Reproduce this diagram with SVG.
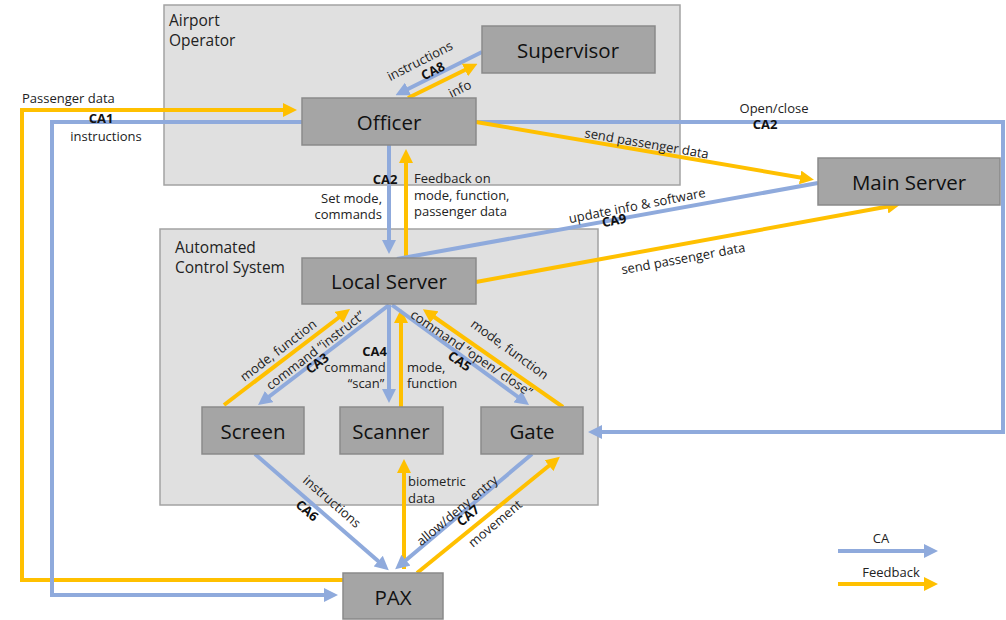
<svg xmlns="http://www.w3.org/2000/svg" width="1006" height="620" viewBox="0 0 1006 620">
<style>
.cont{fill:#e0e0e0;stroke:#a3a3a3;stroke-width:1.5}
.node{fill:#a5a5a5;stroke:#8a8a8a;stroke-width:1.5}
.nt{font-family:"Open Sans","Liberation Sans",sans-serif;font-size:20.5px;fill:#111;text-anchor:middle;dominant-baseline:central}
.ct{font-family:"Open Sans","Liberation Sans",sans-serif;font-size:15.5px;fill:#222}
.lb{font-family:"Open Sans","Liberation Sans",sans-serif;font-size:13px;fill:#222}
.b{font-weight:bold;fill:#111}
.ca{stroke:#8FAADC;stroke-width:4;fill:none}
.fb{stroke:#FFC000;stroke-width:4;fill:none}
.caa{marker-end:url(#ab)}
.fba{marker-end:url(#ay)}
</style>
<defs>
<marker id="ab" markerWidth="14" markerHeight="14" refX="9" refY="7" orient="auto" markerUnits="userSpaceOnUse"><path d="M0,0 L14,7 L0,14 z" fill="#8FAADC"/></marker>
<marker id="ay" markerWidth="14" markerHeight="14" refX="9" refY="7" orient="auto" markerUnits="userSpaceOnUse"><path d="M0,0 L14,7 L0,14 z" fill="#FFC000"/></marker>
</defs>
<rect width="1006" height="620" fill="#fff"/>
<g id="airport-operator">
<rect class="cont" x="164" y="5" width="516" height="180"/>
<text class="ct" x="169" y="26">Airport</text>
<text class="ct" x="169" y="46">Operator</text>
</g>
<g id="automated-control-system">
<rect class="cont" x="160" y="229" width="438" height="276"/>
<text class="ct" x="175" y="253">Automated</text>
<text class="ct" x="175" y="273">Control System</text>
</g>
<g id="connectors">
<polyline class="fb fba" points="345,580 22,580 22,110 292,110"/>
<polyline class="ca caa" points="302,122 52,122 52,595 333,595"/>
<line class="ca caa" x1="482" y1="52" x2="400" y2="93"/>
<line class="fb fba" x1="408" y1="98" x2="473" y2="66"/>
<polyline class="ca caa" points="476,122 1003,122 1003,432 593,432"/>
<line class="fb fba" x1="476" y1="122" x2="809" y2="179"/>
<line class="ca caa" x1="389" y1="145" x2="389" y2="249"/>
<line class="fb fba" x1="406" y1="258" x2="406" y2="154"/>
<line class="ca" x1="818" y1="183" x2="397" y2="259"/>
<line class="fb fba" x1="476" y1="282" x2="896" y2="205"/>
<line class="ca caa" x1="389" y1="305" x2="262" y2="402"/>
<line class="fb fba" x1="224" y1="405" x2="346" y2="312"/>
<line class="ca caa" x1="389" y1="305" x2="389" y2="398"/>
<line class="fb fba" x1="401" y1="407" x2="401" y2="314"/>
<line class="ca caa" x1="392" y1="305" x2="525" y2="402"/>
<line class="fb fba" x1="563" y1="407" x2="427" y2="312"/>
<line class="ca caa" x1="255" y1="454" x2="385" y2="567"/>
<line class="fb fba" x1="404" y1="569" x2="404" y2="464"/>
<line class="ca caa" x1="532" y1="454" x2="399" y2="566"/>
<line class="fb fba" x1="417" y1="573" x2="556" y2="460"/>
</g>
<g id="labels">
<text class="lb" x="22" y="103">Passenger data</text>
<text class="lb b" x="101" y="123" text-anchor="middle">CA1</text>
<text class="lb" x="106" y="141" text-anchor="middle">instructions</text>
<text class="lb" transform="translate(422,65) rotate(-27)" text-anchor="middle">instructions</text>
<text class="lb b" transform="translate(435,75) rotate(-27)" text-anchor="middle">CA8</text>
<text class="lb" transform="translate(462,93) rotate(-27)" text-anchor="middle">info</text>
<text class="lb" x="774" y="113" text-anchor="middle">Open/close</text>
<text class="lb b" x="765" y="129" text-anchor="middle">CA2</text>
<text class="lb" transform="translate(646,148) rotate(9.8)" text-anchor="middle">send passenger data</text>
<text class="lb b" x="385" y="184" text-anchor="middle">CA2</text>
<text class="lb" x="382" y="203" text-anchor="end">Set mode,</text>
<text class="lb" x="382" y="219" text-anchor="end">commands</text>
<text class="lb" x="414" y="183">Feedback on</text>
<text class="lb" x="414" y="200">mode, function,</text>
<text class="lb" x="414" y="216">passenger data</text>
<text class="lb" transform="translate(638,210) rotate(-11)" text-anchor="middle">update info &amp; software</text>
<text class="lb b" transform="translate(615,225) rotate(-11)" text-anchor="middle">CA9</text>
<text class="lb" transform="translate(684,263) rotate(-10.4)" text-anchor="middle">send passenger data</text>
<text class="lb" transform="translate(281,354) rotate(-37.5)" text-anchor="middle">mode, function</text>
<text class="lb" transform="translate(318,354) rotate(-37.5)" text-anchor="middle">command “instruct”</text>
<text class="lb b" transform="translate(320,367) rotate(-37.5)" text-anchor="middle">CA3</text>
<text class="lb b" x="387" y="356" text-anchor="end">CA4</text>
<text class="lb" x="355" y="372" text-anchor="middle">command</text>
<text class="lb" x="366" y="388" text-anchor="middle">“scan”</text>
<text class="lb" x="407" y="372">mode,</text>
<text class="lb" x="407" y="388">function</text>
<text class="lb" transform="translate(469,357) rotate(34)" text-anchor="middle">command “open/ close”</text>
<text class="lb b" transform="translate(457,365) rotate(34)" text-anchor="middle">CA5</text>
<text class="lb" transform="translate(507,353) rotate(36)" text-anchor="middle">mode, function</text>
<text class="lb" transform="translate(329,505) rotate(41)" text-anchor="middle">instructions</text>
<text class="lb b" transform="translate(304,514) rotate(41)" text-anchor="middle">CA6</text>
<text class="lb" x="408" y="486">biometric</text>
<text class="lb" x="408" y="503">data</text>
<text class="lb" transform="translate(460,514) rotate(-40)" text-anchor="middle">allow/deny entry</text>
<text class="lb b" transform="translate(471,519) rotate(-40)" text-anchor="middle">CA7</text>
<text class="lb" transform="translate(498,527) rotate(-40)" text-anchor="middle">movement</text>
</g>
<g id="supervisor"><rect class="node" x="482" y="26" width="173" height="47"/><text class="nt" x="568" y="50">Supervisor</text></g>
<g id="officer"><rect class="node" x="302" y="98" width="174" height="47"/><text class="nt" x="389" y="122">Officer</text></g>
<g id="main-server"><rect class="node" x="818" y="158" width="182" height="47"/><text class="nt" x="909" y="182">Main Server</text></g>
<g id="local-server"><rect class="node" x="302" y="258" width="174" height="46"/><text class="nt" x="389" y="281">Local Server</text></g>
<g id="screen"><rect class="node" x="202" y="407" width="102" height="47"/><text class="nt" x="253" y="431">Screen</text></g>
<g id="scanner"><rect class="node" x="340" y="407" width="103" height="47"/><text class="nt" x="391" y="431">Scanner</text></g>
<g id="gate"><rect class="node" x="481" y="407" width="102" height="47"/><text class="nt" x="532" y="431">Gate</text></g>
<g id="pax"><rect class="node" x="343" y="573" width="100" height="46"/><text class="nt" x="393" y="597">PAX</text></g>
<g id="legend">
<line class="ca caa" x1="838" y1="551" x2="933" y2="551"/>
<text class="lb" x="881" y="543" text-anchor="middle">CA</text>
<line class="fb fba" x1="838" y1="584" x2="933" y2="584"/>
<text class="lb" x="891" y="577" text-anchor="middle">Feedback</text>
</g>
</svg>
